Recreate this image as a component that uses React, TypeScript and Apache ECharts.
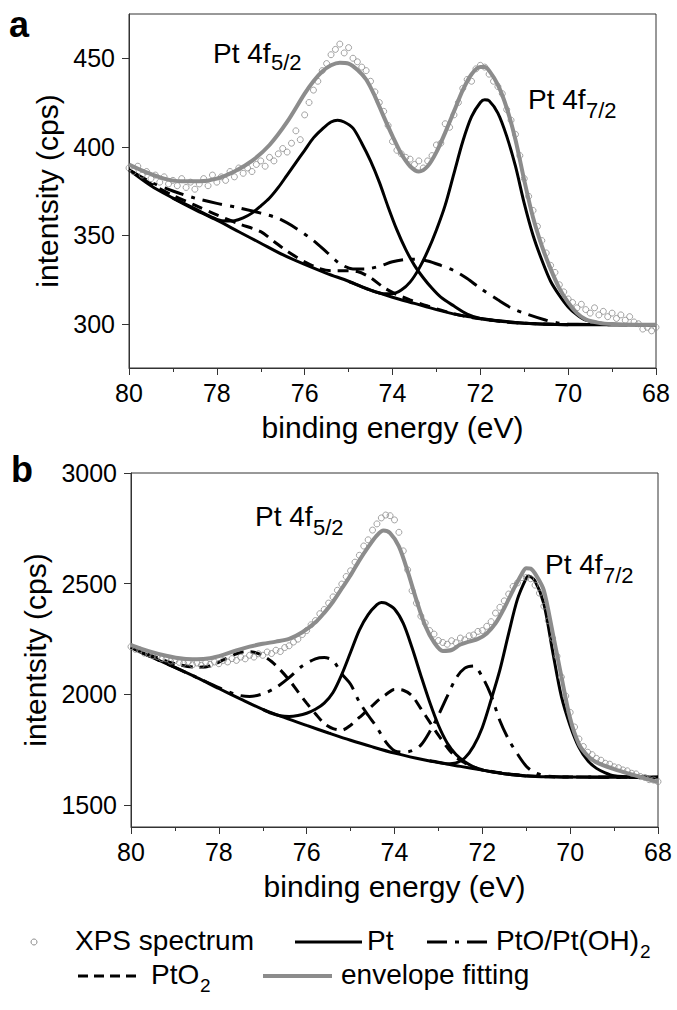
import React, { useEffect, useRef } from 'react';
import * as echarts from 'echarts';

const FONT = '"Liberation Sans", Arial, Helvetica, sans-serif';

// ---------- shared abscissa (binding energy, eV) ----------
const X_TICKS_MIN = 68;
const X_TICKS_MAX = 80;

// ---------- Panel a ----------
const A_BG_E = [80, 79.5, 79, 78.5, 78, 77.5, 77, 76.5, 76, 75.5, 75, 74.5, 74, 73.5, 73, 72.5, 72, 71.5, 71, 70.5, 70, 69, 68];
const A_BG = [387, 378, 371, 364.5, 358.5, 352, 345.5, 339, 333.5, 328.5, 324, 319, 315, 311.5, 308, 305, 303, 301.5, 300.3, 299.7, 299.5, 299.5, 299.5];

const A_PT52_E = [79, 78.5, 78.2, 78, 77.8, 77.6, 77.4, 77.2, 77, 76.8, 76.6, 76.4, 76.2, 76, 75.8, 75.6, 75.4, 75.25, 75.1, 74.9, 74.7, 74.5, 74.3, 74.1, 73.9, 73.7, 73.5, 73.3, 73.1, 72.9, 72.6, 72.3, 72, 71.5, 71, 70.5, 70];
const A_PT52 = [371, 365, 361.2, 359, 358, 358.2, 359.8, 362.5, 366.5, 371, 377, 384, 391, 398, 405, 410, 414, 415, 414, 410.5, 402, 392, 380, 366, 353, 342, 333, 326, 320, 315, 310, 305.5, 303, 301.3, 300.3, 299.7, 299.5];

const A_PT72_E = [75, 74.5, 74.2, 74, 73.8, 73.6, 73.4, 73.2, 73, 72.8, 72.6, 72.4, 72.2, 72, 71.9, 71.8, 71.6, 71.4, 71.2, 71, 70.8, 70.6, 70.4, 70.2, 70, 69.8, 69.6, 69.3, 69, 68.5, 68];
const A_PT72 = [324, 319, 317, 317, 319, 323.5, 331, 341, 353, 367, 385, 403, 417, 425, 426.5, 426, 419, 406, 389, 368, 350, 336, 324, 316, 309.5, 305, 302, 300.5, 299.7, 299.5, 299.5];

const A_PTO_E = [80, 79.5, 79, 78.5, 78, 77.5, 77, 76.6, 76.2, 75.8, 75.5, 75.2, 74.9, 74.6, 74.3, 74, 73.7, 73.5, 73.2, 72.9, 72.6, 72.3, 72, 71.6, 71.3, 71, 70.5, 70.2, 70, 69, 68];
const A_PTO = [387, 380, 375, 371, 368, 365.5, 362.5, 359.5, 354, 347, 340.5, 334, 331, 331, 332.5, 335, 336.3, 336.5, 335.5, 333, 330, 325.5, 320, 313.5, 309, 306, 302, 300.3, 299.8, 299.5, 299.5];

const A_PTO2_E = [80, 79.5, 79, 78.5, 78, 77.5, 77, 76.7, 76.4, 76, 75.7, 75.4, 75.1, 74.8, 74.5, 74.2, 73.9, 73.6, 73.2, 72.8, 72.4, 72, 71.5, 71, 70, 68];
const A_PTO2 = [387, 379, 372.5, 367, 361.5, 356.5, 352, 346.5, 341, 335, 331.5, 330, 330, 329.5, 326, 320.5, 316.5, 313.5, 310, 307, 304.5, 302.8, 301.2, 300.3, 299.6, 299.5];

const A_ENV_E = [80, 79.6, 79.2, 78.8, 78.4, 78, 77.6, 77.2, 76.8, 76.4, 76, 75.8, 75.6, 75.4, 75.2, 75, 74.8, 74.6, 74.4, 74.2, 74, 73.8, 73.6, 73.4, 73.2, 73, 72.8, 72.6, 72.4, 72.2, 72, 71.9, 71.8, 71.6, 71.4, 71.2, 71, 70.8, 70.6, 70.4, 70.2, 70, 69.8, 69.6, 69.3, 69, 68.5, 68];
const A_ENV = [390, 385.5, 382, 380.5, 380.5, 382, 386, 392, 401, 414, 430, 437, 442.5, 446, 447.5, 447, 443.5, 438, 428.5, 417, 406, 396, 389, 386, 389, 397, 408, 420, 432, 441, 445, 445, 443, 435, 422, 404, 381, 360, 344, 331, 320, 312, 306, 302.5, 300.5, 299.8, 299.5, 299.5];

// ---------- Panel b ----------
const B_BG_E = [80, 79.5, 79, 78.5, 78, 77.5, 77, 76.5, 76, 75.5, 75, 74.5, 74, 73.5, 73, 72.5, 72, 71.5, 71, 70.5, 70, 69, 68];
const B_BG = [2212, 2165, 2121, 2075, 2026, 1978, 1932, 1894, 1859, 1825, 1792, 1762, 1734, 1711, 1691, 1674, 1657, 1641, 1631, 1627, 1626, 1625, 1625];

const B_PT52_E = [77, 76.8, 76.6, 76.4, 76.2, 76, 75.8, 75.6, 75.4, 75.2, 75, 74.8, 74.6, 74.4, 74.3, 74.2, 74, 73.8, 73.6, 73.4, 73.2, 73, 72.8, 72.6, 72.4, 72.2, 72, 71.5, 71];
const B_PT52 = [1932, 1914, 1903, 1900, 1904, 1914, 1932, 1960, 2008, 2090, 2190, 2290, 2360, 2405, 2415, 2412, 2385, 2320, 2210, 2085, 1965, 1860, 1780, 1728, 1695, 1672, 1657, 1641, 1631];

const B_PT72_E = [73.2, 73, 72.8, 72.6, 72.4, 72.2, 72, 71.8, 71.6, 71.4, 71.2, 71, 70.95, 70.8, 70.6, 70.4, 70.2, 70, 69.8, 69.6, 69.4, 69.2, 69, 68.5, 68];
const B_PT72 = [1699, 1693, 1686, 1690, 1712, 1765, 1850, 1975, 2110, 2275, 2430, 2525, 2535, 2512, 2410, 2195, 1990, 1858, 1760, 1700, 1665, 1645, 1632, 1626, 1625];

const B_PTO_E = [80, 79.5, 79, 78.5, 78, 77.6, 77.3, 77, 76.7, 76.4, 76.1, 75.8, 75.6, 75.4, 75.2, 75, 74.8, 74.6, 74.4, 74.2, 74, 73.8, 73.6, 73.4, 73.2, 73, 72.8, 72.6, 72.4, 72.2, 72, 71.8, 71.6, 71.4, 71.2, 71, 70.8, 70.5, 70, 68];
const B_PTO = [2212, 2165, 2121, 2076, 2030, 1998, 1990, 2002, 2030, 2075, 2128, 2160, 2166, 2152, 2092, 2045, 1965, 1905, 1850, 1785, 1745, 1738, 1745, 1770, 1830, 1905, 1990, 2072, 2118, 2128, 2078, 1995, 1880, 1795, 1730, 1675, 1645, 1630, 1626, 1625];

const B_PTO2_E = [80, 79.5, 79, 78.5, 78.2, 77.9, 77.6, 77.4, 77.2, 77, 76.8, 76.6, 76.4, 76.2, 76, 75.8, 75.6, 75.4, 75.2, 75, 74.8, 74.6, 74.4, 74.2, 74, 73.8, 73.6, 73.4, 73.2, 73, 72.8, 72.6, 72.4, 72.2, 72, 71.5, 71, 70.5, 70, 68];
const B_PTO2 = [2214, 2172, 2138, 2122, 2128, 2155, 2183, 2193, 2190, 2175, 2148, 2110, 2065, 2012, 1960, 1912, 1868, 1845, 1838, 1860, 1895, 1930, 1968, 1998, 2022, 2018, 1993, 1935, 1875, 1815, 1760, 1715, 1690, 1672, 1659, 1642, 1632, 1627, 1626, 1625];

const B_ENV_E = [80, 79.6, 79.2, 78.8, 78.5, 78.2, 77.9, 77.6, 77.3, 77, 76.7, 76.4, 76.1, 75.8, 75.6, 75.4, 75.2, 75, 74.8, 74.6, 74.4, 74.25, 74.1, 73.9, 73.7, 73.5, 73.3, 73.1, 72.9, 72.7, 72.5, 72.3, 72.1, 71.9, 71.7, 71.5, 71.3, 71.1, 71, 70.9, 70.75, 70.6, 70.4, 70.2, 70, 69.8, 69.6, 69.4, 69, 68.5, 68];
const B_ENV = [2222, 2195, 2174, 2160, 2158, 2163, 2178, 2198, 2215, 2228, 2238, 2250, 2280, 2325, 2368, 2418, 2478, 2538, 2605, 2665, 2718, 2740, 2728, 2668, 2555, 2425, 2310, 2235, 2196, 2200, 2225, 2238, 2250, 2275, 2320, 2390, 2470, 2545, 2570, 2568, 2530, 2470, 2280, 2080, 1890, 1775, 1722, 1692, 1662, 1632, 1603];

// ---------- measured XPS spectra (0.1 eV steps) ----------
const SPEC_E = [80.0, 79.9, 79.8, 79.7, 79.6, 79.5, 79.4, 79.3, 79.2, 79.1, 79.0, 78.9, 78.8, 78.7, 78.6, 78.5, 78.4, 78.3, 78.2, 78.1, 78.0, 77.9, 77.8, 77.7, 77.6, 77.5, 77.4, 77.3, 77.2, 77.1, 77.0, 76.9, 76.8, 76.7, 76.6, 76.5, 76.4, 76.3, 76.2, 76.1, 76.0, 75.9, 75.8, 75.7, 75.6, 75.5, 75.4, 75.3, 75.2, 75.1, 75.0, 74.9, 74.8, 74.7, 74.6, 74.5, 74.4, 74.3, 74.2, 74.1, 74.0, 73.9, 73.8, 73.7, 73.6, 73.5, 73.4, 73.3, 73.2, 73.1, 73.0, 72.9, 72.8, 72.7, 72.6, 72.5, 72.4, 72.3, 72.2, 72.1, 72.0, 71.9, 71.8, 71.7, 71.6, 71.5, 71.4, 71.3, 71.2, 71.1, 71.0, 70.9, 70.8, 70.7, 70.6, 70.5, 70.4, 70.3, 70.2, 70.1, 70.0, 69.9, 69.8, 69.7, 69.6, 69.5, 69.4, 69.3, 69.2, 69.1, 69.0, 68.9, 68.8, 68.7, 68.6, 68.5, 68.4, 68.3, 68.2, 68.1, 68.0];

const A_SPEC = [388, 386, 389, 384, 386, 382, 384, 380, 383, 379, 381, 378, 382, 377, 380, 376, 379, 382, 378, 384, 380, 383, 381, 386, 383, 388, 385, 388, 386, 390, 392, 389, 394, 392, 396, 399, 397, 402, 409, 404, 418, 425, 432, 437, 443, 447, 452, 455, 458, 453, 456, 450, 448, 445, 443, 437, 431, 425, 420, 412, 403, 398, 396, 394, 393, 390, 392, 388, 392, 395, 401, 402, 413, 411, 418, 425, 433, 438, 437, 444, 446, 445, 441, 437, 434, 430, 421, 415, 407, 395, 382, 372, 364, 355, 347, 340, 333, 329, 322, 318, 314, 312, 309, 311, 308, 306, 309, 305, 307, 304, 306, 303, 305, 302, 304, 301, 300, 297, 298, 296, 298];

const B_SPEC = [2215, 2203, 2200, 2186, 2183, 2174, 2171, 2161, 2160, 2150, 2152, 2144, 2140, 2145, 2133, 2141, 2131, 2143, 2135, 2146, 2138, 2153, 2146, 2161, 2153, 2168, 2160, 2176, 2168, 2183, 2176, 2191, 2184, 2199, 2193, 2211, 2219, 2236, 2249, 2270, 2288, 2314, 2333, 2364, 2383, 2412, 2440, 2470, 2498, 2532, 2558, 2597, 2628, 2670, 2698, 2742, 2770, 2797, 2810, 2807, 2788, 2732, 2648, 2562, 2468, 2412, 2353, 2322, 2288, 2272, 2243, 2234, 2226, 2242, 2233, 2254, 2246, 2264, 2268, 2284, 2288, 2307, 2328, 2367, 2393, 2422, 2453, 2487, 2503, 2527, 2528, 2522, 2493, 2457, 2398, 2332, 2253, 2172, 2078, 1992, 1918, 1852, 1798, 1764, 1738, 1727, 1710, 1702, 1688, 1684, 1672, 1668, 1658, 1654, 1643, 1640, 1628, 1624, 1614, 1612, 1605];

// ---------- axis tick values ----------
const A_Y_TICKS = [300, 350, 400, 450];
const B_Y_TICKS = [1500, 2000, 2500, 3000];

const zip = (xs: number[], ys: number[]) => xs.map((x, i) => [x, ys[i]]);

const AXIS_COLOR = '#333';
const SOLID = { color: '#000', width: 3 };
const DASH = { color: '#000', width: 3, type: [11, 7] as number[] };
const DASHDOT = { color: '#000', width: 3, type: [20, 8, 4, 8] as number[] };
const ENVELOPE = { color: '#8c8c8c', width: 4 };

function lineSeries(name: string, idx: number, e: number[], v: number[], style: any, z: number) {
  return {
    type: 'line',
    name,
    xAxisIndex: idx,
    yAxisIndex: idx,
    data: zip(e, v),
    showSymbol: false,
    symbol: 'none',
    smooth: 0.3,
    lineStyle: style,
    z,
    silent: true,
  };
}

function scatterSeries(idx: number, v: number[]) {
  return {
    type: 'scatter',
    name: 'XPS spectrum',
    xAxisIndex: idx,
    yAxisIndex: idx,
    data: zip(SPEC_E, v),
    symbol: 'circle',
    symbolSize: 6,
    itemStyle: { color: 'rgba(255,255,255,0)', borderColor: '#8c8c8c', borderWidth: 1 },
    z: 5,
    silent: true,
  };
}

function xAxis(idx: number) {
  return {
    gridIndex: idx,
    type: 'value',
    min: X_TICKS_MIN,
    max: X_TICKS_MAX,
    interval: 2,
    inverse: true,
    axisLine: { show: true, onZero: false, lineStyle: { color: AXIS_COLOR, width: 1 } },
    axisTick: { show: true, inside: false, length: 7, lineStyle: { color: AXIS_COLOR, width: 1 } },
    minorTick: { show: true, splitNumber: 2, length: 4, lineStyle: { color: AXIS_COLOR, width: 1 } },
    splitLine: { show: false },
    minorSplitLine: { show: false },
    axisLabel: { fontSize: 25, color: '#000', fontFamily: FONT, margin: 12, formatter: (v: number) => String(v) },
    name: 'binding energy (eV)',
    nameLocation: 'middle',
    nameGap: 44,
    nameTextStyle: { fontSize: 30, color: '#000', fontFamily: FONT },
  };
}

function yAxis(idx: number, min: number, max: number, ticks: number[], gap: number) {
  return {
    gridIndex: idx,
    type: 'value',
    min,
    max,
    axisLine: { show: true, onZero: false, lineStyle: { color: AXIS_COLOR, width: 1 } },
    axisTick: { show: true, inside: false, length: 7, customValues: ticks, lineStyle: { color: AXIS_COLOR, width: 1 } },
    splitLine: { show: false },
    axisLabel: {
      fontSize: 25,
      color: '#000',
      fontFamily: FONT,
      margin: 14,
      customValues: ticks,
      formatter: (v: number) => String(v),
    },
    name: 'intentsity (cps)',
    nameLocation: 'middle',
    nameGap: gap,
    nameTextStyle: { fontSize: 30, color: '#000', fontFamily: FONT },
  };
}

function txt(text: string, x: number, y: number, size: number, extra: any = {}) {
  return {
    type: 'text',
    x,
    y,
    silent: true,
    style: {
      text,
      fontSize: size,
      fontFamily: FONT,
      fill: '#000',
      align: 'left',
      verticalAlign: 'middle',
      textAlign: 'left',
      textVerticalAlign: 'middle',
      ...extra,
    },
  };
}

function seg(x1: number, y: number, x2: number, style: any) {
  return {
    type: 'line',
    silent: true,
    shape: { x1, y1: y, x2, y2: y },
    style: { stroke: style.color, lineWidth: style.width, lineDash: style.type || null, fill: null },
  };
}

const LEG_ROW1 = 940;
const LEG_ROW2 = 974;
const LEG_FONT = 28;

const option: any = {
  animation: false,
  backgroundColor: '#fff',
  grid: [
    { left: 129, top: 14, width: 527, height: 354, show: true, borderColor: AXIS_COLOR, borderWidth: 1, backgroundColor: 'transparent' },
    { left: 131, top: 473, width: 527, height: 354, show: true, borderColor: AXIS_COLOR, borderWidth: 1, backgroundColor: 'transparent' },
  ],
  xAxis: [xAxis(0), xAxis(1)],
  yAxis: [yAxis(0, 275, 475, A_Y_TICKS, 64), yAxis(1, 1400, 3000, B_Y_TICKS, 78)],
  series: [
    scatterSeries(0, A_SPEC),
    lineSeries('background', 0, A_BG_E, A_BG, SOLID, 3),
    lineSeries('Pt 4f5/2', 0, A_PT52_E, A_PT52, SOLID, 3),
    lineSeries('Pt 4f7/2', 0, A_PT72_E, A_PT72, SOLID, 3),
    lineSeries('PtO/Pt(OH)2', 0, A_PTO_E, A_PTO, DASHDOT, 3),
    lineSeries('PtO2', 0, A_PTO2_E, A_PTO2, DASH, 3),
    lineSeries('envelope fitting', 0, A_ENV_E, A_ENV, ENVELOPE, 4),
    scatterSeries(1, B_SPEC),
    lineSeries('background', 1, B_BG_E, B_BG, SOLID, 3),
    lineSeries('Pt 4f5/2', 1, B_PT52_E, B_PT52, SOLID, 3),
    lineSeries('Pt 4f7/2', 1, B_PT72_E, B_PT72, SOLID, 3),
    lineSeries('PtO/Pt(OH)2', 1, B_PTO_E, B_PTO, DASHDOT, 3),
    lineSeries('PtO2', 1, B_PTO2_E, B_PTO2, DASH, 3),
    lineSeries('envelope fitting', 1, B_ENV_E, B_ENV, ENVELOPE, 4),
  ],
  graphic: [
    // panel letters
    txt('a', 9, 24, 36, { fontWeight: 'bold' }),
    txt('b', 11, 469, 36, { fontWeight: 'bold' }),
    // peak annotations, panel a
    txt('Pt 4f', 213, 53, 28),
    txt('5/2', 271, 62, 22),
    txt('Pt 4f', 528, 99, 28),
    txt('7/2', 586, 110, 22),
    // peak annotations, panel b
    txt('Pt 4f', 255, 516, 28),
    txt('5/2', 313, 527, 22),
    txt('Pt 4f', 545, 564, 28),
    txt('7/2', 603, 575, 22),
    // legend row 1
    {
      type: 'circle',
      silent: true,
      shape: { cx: 34, cy: LEG_ROW1 + 2, r: 3 },
      style: { fill: '#fff', stroke: '#8c8c8c', lineWidth: 1 },
    },
    txt('XPS spectrum', 75, LEG_ROW1, LEG_FONT),
    seg(295, LEG_ROW1 + 2, 362, SOLID),
    txt('Pt', 367, LEG_ROW1, LEG_FONT),
    seg(427, LEG_ROW1 + 2, 492, DASHDOT),
    txt('PtO/Pt(OH)', 496, LEG_ROW1, LEG_FONT),
    txt('2', 640, LEG_ROW1 + 11, 19),
    // legend row 2
    seg(78, LEG_ROW2 + 2, 138, { color: '#000', width: 3, type: [10, 6] }),
    txt('PtO', 151, LEG_ROW2, LEG_FONT),
    txt('2', 200, LEG_ROW2 + 11, 19),
    seg(263, LEG_ROW2 + 2, 332, ENVELOPE),
    txt('envelope fitting', 341, LEG_ROW2, LEG_FONT),
  ],
};

export default function App() {
  const ref = useRef<HTMLDivElement>(null);
  useEffect(() => {
    if (!ref.current) return;
    const chart = echarts.init(ref.current, null, { renderer: 'svg' });
    chart.setOption(option);
    return () => chart.dispose();
  }, []);
  return (
    <div
      ref={ref}
      style={{ position: 'absolute', left: 0, top: 0, width: 677, height: 1010, background: '#fff' }}
    />
  );
}
